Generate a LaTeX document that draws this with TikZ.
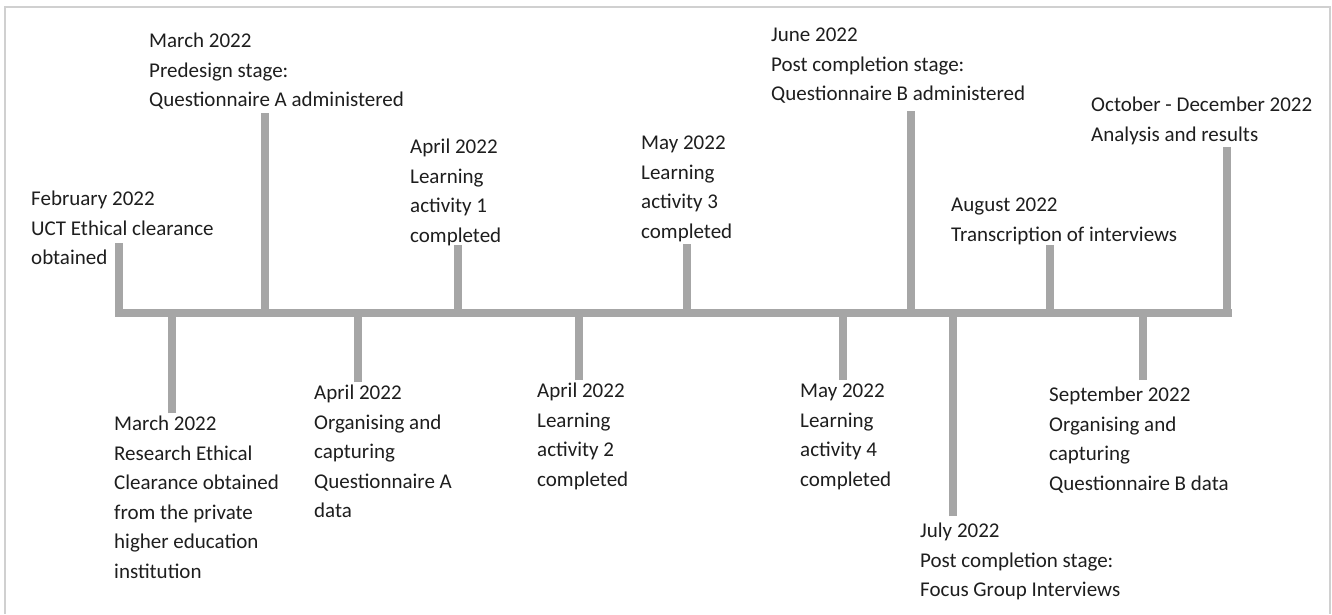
\documentclass[tikz,border=0pt]{standalone}
\usepackage{fontspec}
\setmainfont{Carlito}
\definecolor{bargray}{HTML}{A6A6A6}
\definecolor{framegray}{HTML}{D0D0D0}
\definecolor{ink}{HTML}{1E1E1E}
\tikzset{
  bar/.style={draw=bargray, line width=8pt, line cap=butt},
  tick/.style={draw=bargray, line width=8pt, line cap=butt},
  frameline/.style={draw=framegray, line width=1.5pt},
  event/.style={anchor=north west, inner sep=0pt, align=left, text=ink,
    font=\fontsize{21}{29.5}\selectfont},
}
\begin{document}
\begin{tikzpicture}[x=1pt, y=-1pt]
  \useasboundingbox (0,0) rectangle (1332,614);
  \fill[white] (0,0) rectangle (1332,614);
  % outer frame (open at the bottom)
  \draw[frameline] (5,614) -- (5,7) -- (1330,7) -- (1330,614);

  % main time axis
  \coordinate (bL) at (115,313);
  \coordinate (bR) at (1232,313);
  \draw[bar] (bL) -- (bR);

  % tick ends
  \coordinate (tFeb)  at (119,243);
  \coordinate (tMarU) at (265,113);
  \coordinate (tMarD) at (172,413);
  \coordinate (tAprD) at (358,382);
  \coordinate (tLA1)  at (458,245);
  \coordinate (tLA2)  at (579,380);
  \coordinate (tLA3)  at (687,244);
  \coordinate (tLA4)  at (843,380);
  \coordinate (tJun)  at (911,111);
  \coordinate (tJul)  at (953,516);
  \coordinate (tAug)  at (1050,245);
  \coordinate (tSep)  at (1143,380);
  \coordinate (tOct)  at (1227,147);

  \foreach \t in {tFeb,tMarU,tMarD,tAprD,tLA1,tLA2,tLA3,tLA4,tJun,tJul,tAug,tSep,tOct}
    \draw[tick] (\t) -- (\t |- bL);

  % events above the axis
  \node[event] (feb) at (31,191) {February 2022\\UCT Ethical clearance\\obtained};
  \node[event] (marU) at (149,33) {March 2022\\Predesign stage:\\Questionnaire A administered};
  \node[event] (la1) at (410,139) {April 2022\\Learning\\activity 1\\completed};
  \node[event] (la3) at (641,136) {May 2022\\Learning\\activity 3\\completed};
  \node[event] (jun) at (771,28) {June 2022\\Post completion stage:\\Questionnaire B administered};
  \node[event] (aug) at (951,198) {August 2022\\Transcription of interviews};
  \node[event] (oct) at (1091,97) {October - December 2022\\Analysis and results};

  % events below the axis
  \node[event] (marD) at (114,416) {March 2022\\Research Ethical\\Clearance obtained\\from the private\\higher education\\institution};
  \node[event] (aprD) at (314,385) {April 2022\\Organising and\\capturing\\Questionnaire A\\data};
  \node[event] (la2) at (537,383) {April 2022\\Learning\\activity 2\\completed};
  \node[event] (la4) at (800,384) {May 2022\\Learning\\activity 4\\completed};
  \node[event] (sep) at (1049,387) {September 2022\\Organising and\\capturing\\Questionnaire B data};
  \node[event] (jul) at (920,523) {July 2022\\Post completion stage:\\Focus Group Interviews};
\end{tikzpicture}
\end{document}
